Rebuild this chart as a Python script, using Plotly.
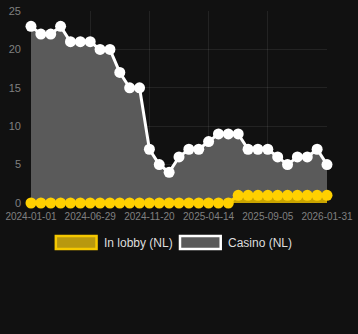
import plotly.graph_objects as go

tick_labels = ["2024-01-01", "2024-06-29", "2024-11-20", "2025-04-14", "2025-09-05", "2026-01-31"]
casino = [23, 22, 22, 23, 21, 21, 21, 20, 20, 17, 15, 15, 7, 5, 4, 6, 7, 7, 8, 9, 9, 9, 7, 7, 7, 6, 5, 6, 6, 7, 5]
lobby = [0] * 21 + [1] * 10
y_ticks = [0, 5, 10, 15, 20, 25]
idx = list(range(len(casino)))
tick_idx = idx[::6]

W, H = 358, 334
L, R, T, B = 31, 29, 5, 131
pw, ph = W - L - R, H - T - B

def px(x):
    return (x - L) / pw

def py(y):
    return 1 - (y - T) / ph

fig = go.Figure()
fig.add_trace(go.Scatter(
    x=idx, y=casino, mode="lines+markers", name="Casino (NL)",
    line=dict(color="#ffffff", width=3),
    marker=dict(color="#ffffff", size=11),
    fill="tozeroy", fillcolor="#5a5a5a", cliponaxis=False, showlegend=False))
fig.add_trace(go.Scatter(
    x=idx, y=lobby, mode="lines+markers", name="In lobby (NL)",
    line=dict(color="#ffd000", width=3),
    marker=dict(color="#ffd000", size=11),
    fill="tozeroy", fillcolor="#c9a400", cliponaxis=False, showlegend=False))

grid = "rgba(255,255,255,0.08)"
fig.update_xaxes(range=[0, len(casino) - 1], tickvals=tick_idx, ticktext=tick_labels,
                 showgrid=True, gridcolor=grid, zeroline=False, showline=False,
                 tickfont=dict(family="Liberation Sans, Arial", size=10, color="#808080"),
                 ticklabelstandoff=6, ticklabeloverflow="allow")
fig.update_yaxes(range=[0, 25], tickvals=y_ticks,
                 showgrid=True, gridcolor=grid, zeroline=False, showline=False,
                 tickfont=dict(family="Liberation Sans, Arial", size=11, color="#808080"),
                 ticklabelstandoff=9, ticklabeloverflow="allow")

shapes = [
    dict(type="rect", xref="paper", yref="paper", x0=px(56), x1=px(97), y0=py(250.5), y1=py(237),
         fillcolor="#b8980f", line=dict(color="#f5c800", width=2.5)),
    dict(type="rect", xref="paper", yref="paper", x0=px(181), x1=px(222), y0=py(250.5), y1=py(237),
         fillcolor="#5a5a5a", line=dict(color="#ffffff", width=2.5)),
]
annotations = [
    dict(xref="paper", yref="paper", x=px(102), y=py(244.5), text="In lobby (NL)", showarrow=False,
         xanchor="left", yanchor="middle", font=dict(family="Liberation Sans, Arial", size=12, color="#dddddd")),
    dict(xref="paper", yref="paper", x=px(227), y=py(244.5), text="Casino (NL)", showarrow=False,
         xanchor="left", yanchor="middle", font=dict(family="Liberation Sans, Arial", size=12, color="#dddddd")),
]

fig.update_layout(width=W, height=H, margin=dict(l=L, r=R, t=T, b=B),
                  paper_bgcolor="#111111", plot_bgcolor="#111111",
                  shapes=shapes, annotations=annotations, showlegend=False)
fig.write_html("out.html")
